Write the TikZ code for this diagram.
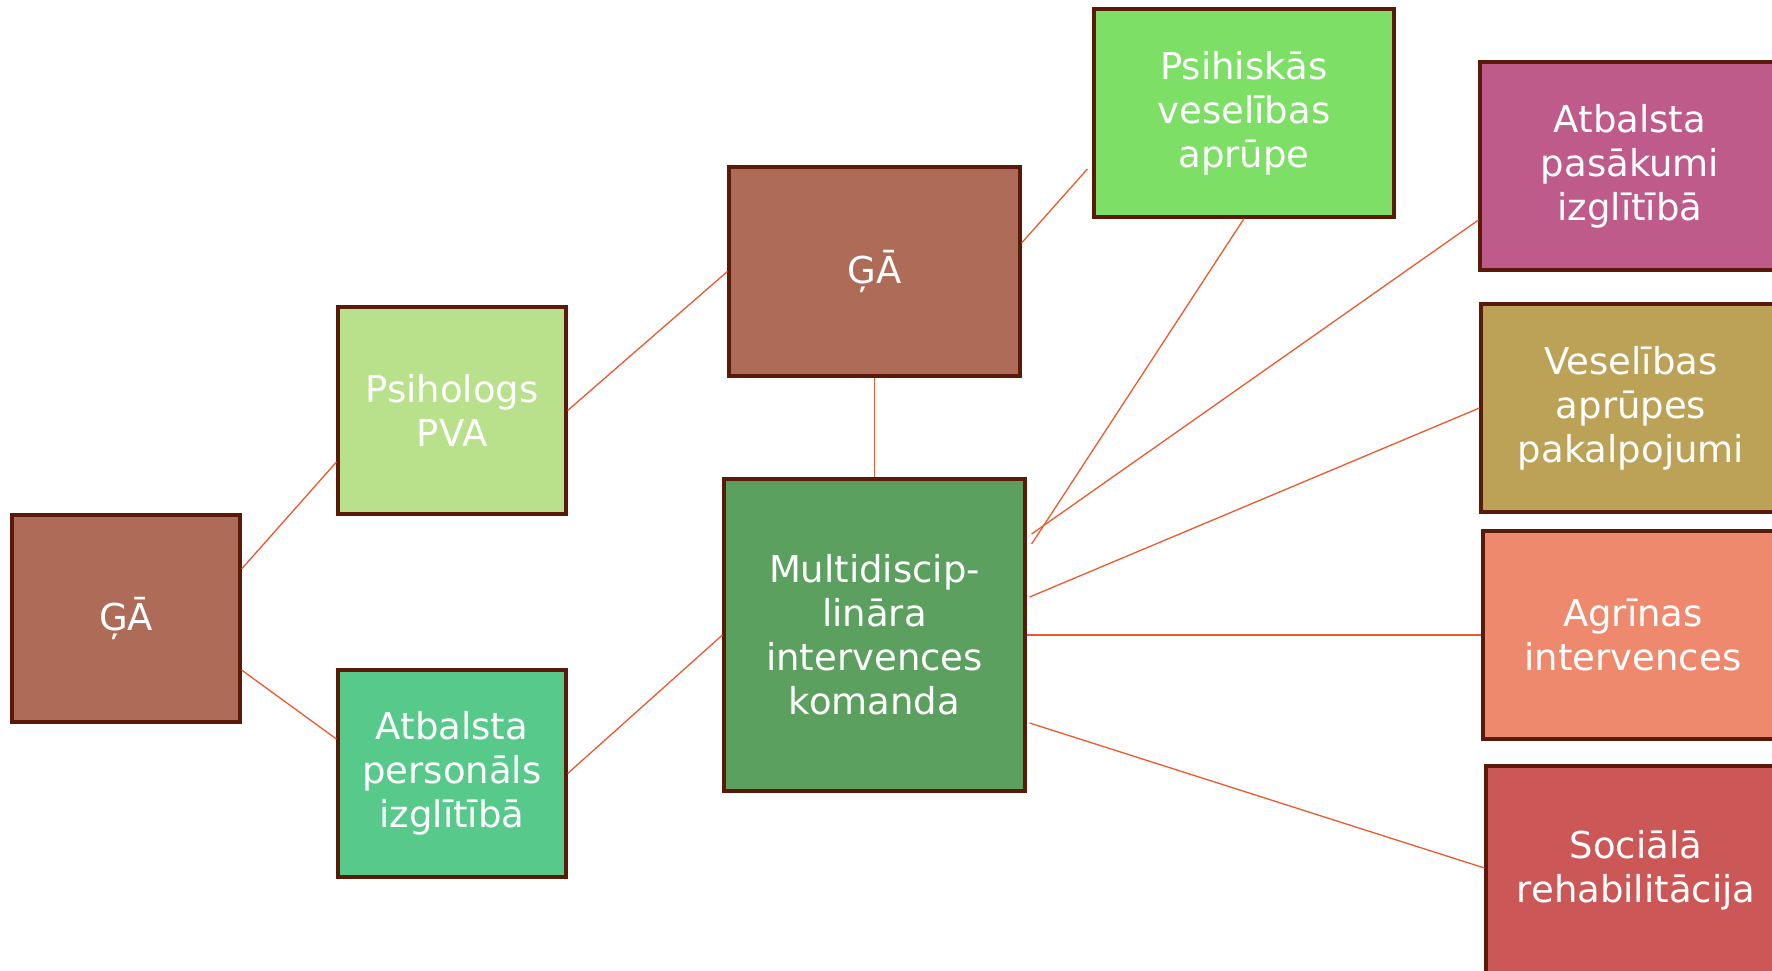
\documentclass[tikz,border=0pt]{standalone}
\usepackage{fontspec}
\setmainfont{DejaVu Sans}
\definecolor{cga}{HTML}{AE6C58}
\definecolor{cpsi}{HTML}{B9E08B}
\definecolor{catbp}{HTML}{57CA8B}
\definecolor{cmulti}{HTML}{5BA05E}
\definecolor{cpsih}{HTML}{7DDF66}
\definecolor{catpas}{HTML}{BE5B8B}
\definecolor{cvesel}{HTML}{BCA257}
\definecolor{cagr}{HTML}{EE896E}
\definecolor{csoc}{HTML}{CB5756}
\definecolor{cborder}{HTML}{5A1A0A}
\definecolor{cline}{HTML}{E95A2F}
\tikzset{
  box/.style={rectangle, draw=cborder, line width=1.6pt, text=white, align=center,
    inner sep=0pt, font=\fontsize{18.5}{22}\selectfont},
  small/.style={minimum width=114pt, minimum height=103.5pt},
  conn/.style={draw=cline, line width=0.65pt}
}
\begin{document}
\begin{tikzpicture}[x=0.5pt,y=-0.5pt]
\useasboundingbox (0,0) rectangle (1772,970);
\clip (0,0) rectangle (1772,970);
\fill[white] (0,0) rectangle (1772,970);

\node[box, small, fill=cga] (ga1) at (126,618.5) {ĢĀ};
\node[box, small, fill=cpsi] (psi) at (452,410.5) {Psihologs\\PVA};
\node[box, small, fill=catbp] (atbp) at (452,773.5) {Atbalsta\\personāls\\izglītībā};
\node[box, fill=cga, minimum width=145.5pt, minimum height=104.5pt] (ga2) at (874.5,271.5) {ĢĀ};
\node[box, fill=cmulti, minimum width=150.5pt, minimum height=156pt] (multi) at (874.5,635) {Multidiscip-\\lināra\\intervences\\komanda};
\node[box, fill=cpsih, minimum width=150pt, minimum height=104pt] (psih) at (1244,113) {Psihiskās\\veselības\\aprūpe};
\node[box, fill=catpas, minimum width=150pt, minimum height=104pt] (atpas) at (1630,166) {Atbalsta\\pasākumi\\izglītībā};
\node[box, fill=cvesel, minimum width=150pt, minimum height=104pt] (vesel) at (1631,408) {Veselības\\aprūpes\\pakalpojumi};
\node[box, fill=cagr, minimum width=150pt, minimum height=104pt] (agr) at (1633,635) {Agrīnas\\intervences};
\node[box, fill=csoc, minimum width=150pt, minimum height=104pt] (soc) at (1636,870) {Sociālā\\rehabilitācija};

\draw[conn] ([yshift=24.75pt]ga1.east) -- ([yshift=-25.75pt]psi.west);
\draw[conn] ([yshift=-25.75pt]ga1.east) -- ([yshift=17.25pt]atbp.west);
\draw[conn] (psi.east) -- (ga2.west);
\draw[conn] (atbp.east) -- (multi.west);
\draw[conn] (ga2.south) -- (multi.north);
\draw[conn] ([yshift=14.25pt]ga2.east) -- ([xshift=-2.5pt,yshift=-28pt]psih.west);
\draw[conn] (psih.south) -- ([xshift=2.5pt,yshift=45.5pt]multi.east);
\draw[conn] ([yshift=-27pt]atpas.west) -- ([xshift=2.5pt,yshift=50.5pt]multi.east);
\draw[conn] (vesel.west) -- ([xshift=1.5pt,yshift=19pt]multi.east);
\draw[conn] (agr.west) -- (multi.east);
\draw[conn] ([yshift=1pt]soc.west) -- ([xshift=1.5pt,yshift=-44pt]multi.east);
\end{tikzpicture}
\end{document}
